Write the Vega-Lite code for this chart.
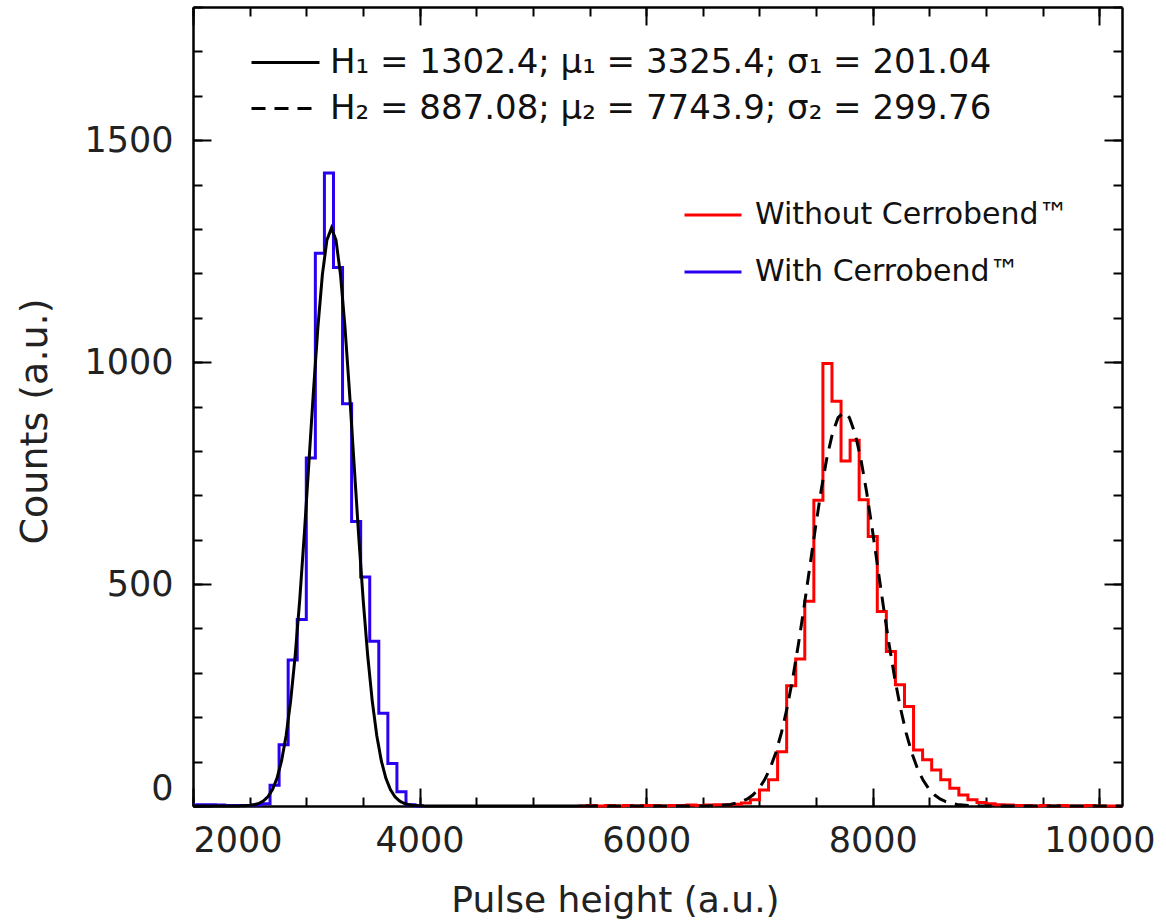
{
  "$schema": "https://vega.github.io/schema/vega-lite/v6.json",
  "autosize": {"type": "none"},
  "width": 929,
  "height": 799,
  "padding": {"left": 193, "top": 7, "right": 44, "bottom": 117},
  "background": "white",
  "config": {
    "view": {"stroke": null},
    "font": "DejaVu Sans",
    "axis": {
      "grid": false,
      "labelFont": "DejaVu Sans",
      "labelFontSize": 35,
      "labelColor": "#222222",
      "titleFont": "DejaVu Sans",
      "titleFontSize": 36,
      "titleFontWeight": "normal",
      "titleColor": "#222222",
      "tickColor": "black",
      "tickWidth": 2,
      "domainColor": "black",
      "domainWidth": 2.5,
      "labelOverlap": false
    },
    "legend": {"labelFont": "DejaVu Sans", "labelColor": "#111111", "labelLimit": 0}
  },
  "resolve": {"axis": {"x": "independent", "y": "independent"}},
  "layer": [
    {
      "data": {"values": [
        {"x": 2000, "count": 2, "series": "With Cerrobend™"},
        {"x": 2040, "count": 3, "series": "With Cerrobend™"},
        {"x": 2120, "count": 3, "series": "With Cerrobend™"},
        {"x": 2200, "count": 2, "series": "With Cerrobend™"},
        {"x": 2280, "count": 1, "series": "With Cerrobend™"},
        {"x": 2360, "count": 1, "series": "With Cerrobend™"},
        {"x": 2440, "count": 1, "series": "With Cerrobend™"},
        {"x": 2520, "count": 2, "series": "With Cerrobend™"},
        {"x": 2600, "count": 5, "series": "With Cerrobend™"},
        {"x": 2680, "count": 47, "series": "With Cerrobend™"},
        {"x": 2760, "count": 138, "series": "With Cerrobend™"},
        {"x": 2840, "count": 329, "series": "With Cerrobend™"},
        {"x": 2920, "count": 420, "series": "With Cerrobend™"},
        {"x": 3000, "count": 784, "series": "With Cerrobend™"},
        {"x": 3080, "count": 1245, "series": "With Cerrobend™"},
        {"x": 3160, "count": 1426, "series": "With Cerrobend™"},
        {"x": 3240, "count": 1213, "series": "With Cerrobend™"},
        {"x": 3320, "count": 906, "series": "With Cerrobend™"},
        {"x": 3400, "count": 641, "series": "With Cerrobend™"},
        {"x": 3480, "count": 516, "series": "With Cerrobend™"},
        {"x": 3560, "count": 371, "series": "With Cerrobend™"},
        {"x": 3640, "count": 209, "series": "With Cerrobend™"},
        {"x": 3720, "count": 96, "series": "With Cerrobend™"},
        {"x": 3800, "count": 32, "series": "With Cerrobend™"},
        {"x": 3880, "count": 3, "series": "With Cerrobend™"},
        {"x": 3960, "count": 0, "series": "With Cerrobend™"},
        {"x": 4040, "count": 0, "series": "With Cerrobend™"}
      ]},
      "mark": {"type": "line", "interpolate": "step-after", "strokeWidth": 3},
      "encoding": {
        "x": {"field": "x", "type": "quantitative",
          "scale": {"domain": [2000, 10200], "nice": false, "zero": false},
          "axis": {"orient": "bottom", "values": [2000, 4000, 6000, 8000, 10000], "format": "d", "tickSize": -18, "labelPadding": 35, "domain": true,
            "title": "Pulse height (a.u.)", "titleX": 422, "titleY": 105, "titleBaseline": "alphabetic", "titleAnchor": "middle", "titleAlign": "center"}},
        "y": {"field": "count", "type": "quantitative",
          "scale": {"domain": [0, 1800], "nice": false, "zero": false},
          "axis": {"orient": "left", "values": [0, 500, 1000, 1500], "format": "d", "tickSize": -18, "labelPadding": 38, "labelFlush": true, "domain": true,
            "title": "Counts (a.u.)", "titleX": -158, "titleY": 414, "titleBaseline": "middle", "titleAlign": "center", "titleAngle": 270, "titleFontSize": 38}},
        "color": {"field": "series", "type": "nominal",
          "scale": {"domain": ["Without Cerrobend™", "With Cerrobend™"], "range": ["#ff0000", "#2b00f0"]},
          "legend": {"orient": "none", "legendX": 490, "legendY": 178, "title": null, "symbolType": "stroke", "symbolSize": 3249, "symbolStrokeWidth": 3,
            "labelFontSize": 30, "labelOffset": 12, "rowPadding": 12, "padding": 0}}
      }
    },
    {
      "data": {"values": [
        {"x": 5400, "count": 0, "series": "Without Cerrobend™"},
        {"x": 5480, "count": 1, "series": "Without Cerrobend™"},
        {"x": 5560, "count": 0, "series": "Without Cerrobend™"},
        {"x": 5640, "count": 1, "series": "Without Cerrobend™"},
        {"x": 5720, "count": 0, "series": "Without Cerrobend™"},
        {"x": 5800, "count": 1, "series": "Without Cerrobend™"},
        {"x": 5880, "count": 0, "series": "Without Cerrobend™"},
        {"x": 5960, "count": 1, "series": "Without Cerrobend™"},
        {"x": 6040, "count": 1, "series": "Without Cerrobend™"},
        {"x": 6120, "count": 0, "series": "Without Cerrobend™"},
        {"x": 6200, "count": 1, "series": "Without Cerrobend™"},
        {"x": 6280, "count": 1, "series": "Without Cerrobend™"},
        {"x": 6360, "count": 2, "series": "Without Cerrobend™"},
        {"x": 6440, "count": 1, "series": "Without Cerrobend™"},
        {"x": 6520, "count": 2, "series": "Without Cerrobend™"},
        {"x": 6600, "count": 3, "series": "Without Cerrobend™"},
        {"x": 6680, "count": 3, "series": "Without Cerrobend™"},
        {"x": 6760, "count": 4, "series": "Without Cerrobend™"},
        {"x": 6840, "count": 7, "series": "Without Cerrobend™"},
        {"x": 6920, "count": 14, "series": "Without Cerrobend™"},
        {"x": 7000, "count": 36, "series": "Without Cerrobend™"},
        {"x": 7080, "count": 59, "series": "Without Cerrobend™"},
        {"x": 7160, "count": 122, "series": "Without Cerrobend™"},
        {"x": 7240, "count": 271, "series": "Without Cerrobend™"},
        {"x": 7320, "count": 331, "series": "Without Cerrobend™"},
        {"x": 7400, "count": 461, "series": "Without Cerrobend™"},
        {"x": 7480, "count": 689, "series": "Without Cerrobend™"},
        {"x": 7560, "count": 997, "series": "Without Cerrobend™"},
        {"x": 7640, "count": 912, "series": "Without Cerrobend™"},
        {"x": 7720, "count": 777, "series": "Without Cerrobend™"},
        {"x": 7800, "count": 824, "series": "Without Cerrobend™"},
        {"x": 7880, "count": 690, "series": "Without Cerrobend™"},
        {"x": 7960, "count": 607, "series": "Without Cerrobend™"},
        {"x": 8040, "count": 438, "series": "Without Cerrobend™"},
        {"x": 8120, "count": 348, "series": "Without Cerrobend™"},
        {"x": 8200, "count": 273, "series": "Without Cerrobend™"},
        {"x": 8280, "count": 224, "series": "Without Cerrobend™"},
        {"x": 8360, "count": 126, "series": "Without Cerrobend™"},
        {"x": 8440, "count": 104, "series": "Without Cerrobend™"},
        {"x": 8520, "count": 81, "series": "Without Cerrobend™"},
        {"x": 8600, "count": 59, "series": "Without Cerrobend™"},
        {"x": 8680, "count": 40, "series": "Without Cerrobend™"},
        {"x": 8760, "count": 25, "series": "Without Cerrobend™"},
        {"x": 8840, "count": 14, "series": "Without Cerrobend™"},
        {"x": 8920, "count": 8, "series": "Without Cerrobend™"},
        {"x": 9000, "count": 5, "series": "Without Cerrobend™"},
        {"x": 9080, "count": 3, "series": "Without Cerrobend™"},
        {"x": 9160, "count": 2, "series": "Without Cerrobend™"},
        {"x": 9240, "count": 1, "series": "Without Cerrobend™"},
        {"x": 9320, "count": 1, "series": "Without Cerrobend™"},
        {"x": 9400, "count": 0, "series": "Without Cerrobend™"},
        {"x": 9480, "count": 1, "series": "Without Cerrobend™"},
        {"x": 9560, "count": 0, "series": "Without Cerrobend™"},
        {"x": 9640, "count": 1, "series": "Without Cerrobend™"},
        {"x": 9720, "count": 0, "series": "Without Cerrobend™"},
        {"x": 9800, "count": 0, "series": "Without Cerrobend™"},
        {"x": 9880, "count": 1, "series": "Without Cerrobend™"},
        {"x": 9960, "count": 0, "series": "Without Cerrobend™"},
        {"x": 10040, "count": 0, "series": "Without Cerrobend™"},
        {"x": 10120, "count": 0, "series": "Without Cerrobend™"},
        {"x": 10200, "count": 0, "series": "Without Cerrobend™"}
      ]},
      "mark": {"type": "line", "interpolate": "step-after", "strokeWidth": 3},
      "encoding": {
        "x": {"field": "x", "type": "quantitative",
          "axis": {"orient": "bottom", "values": [2000, 2500, 3000, 3500, 4000, 4500, 5000, 5500, 6000, 6500, 7000, 7500, 8000, 8500, 9000, 9500, 10000], "tickSize": -9, "labels": false, "domain": false, "title": null}},
        "y": {"field": "count", "type": "quantitative",
          "axis": {"orient": "left", "values": [0, 100, 200, 300, 400, 500, 600, 700, 800, 900, 1000, 1100, 1200, 1300, 1400, 1500, 1600, 1700, 1800], "tickSize": -9, "labels": false, "domain": false, "title": null}},
        "color": {"field": "series", "type": "nominal"}
      }
    },
    {
      "data": {"values": [
        {"x": 2000, "fit": 0, "curve": "H₁ = 1302.4; μ₁ = 3325.4; σ₁ = 201.04"},
        {"x": 2222, "fit": 0, "curve": "H₁ = 1302.4; μ₁ = 3325.4; σ₁ = 201.04"},
        {"x": 2422, "fit": 0.3, "curve": "H₁ = 1302.4; μ₁ = 3325.4; σ₁ = 201.04"},
        {"x": 2502, "fit": 1.4, "curve": "H₁ = 1302.4; μ₁ = 3325.4; σ₁ = 201.04"},
        {"x": 2542, "fit": 3.0, "curve": "H₁ = 1302.4; μ₁ = 3325.4; σ₁ = 201.04"},
        {"x": 2582, "fit": 6.0, "curve": "H₁ = 1302.4; μ₁ = 3325.4; σ₁ = 201.04"},
        {"x": 2622, "fit": 11.5, "curve": "H₁ = 1302.4; μ₁ = 3325.4; σ₁ = 201.04"},
        {"x": 2662, "fit": 21.1, "curve": "H₁ = 1302.4; μ₁ = 3325.4; σ₁ = 201.04"},
        {"x": 2702, "fit": 37.2, "curve": "H₁ = 1302.4; μ₁ = 3325.4; σ₁ = 201.04"},
        {"x": 2742, "fit": 62.9, "curve": "H₁ = 1302.4; μ₁ = 3325.4; σ₁ = 201.04"},
        {"x": 2782, "fit": 102.1, "curve": "H₁ = 1302.4; μ₁ = 3325.4; σ₁ = 201.04"},
        {"x": 2822, "fit": 158.8, "curve": "H₁ = 1302.4; μ₁ = 3325.4; σ₁ = 201.04"},
        {"x": 2862, "fit": 236.9, "curve": "H₁ = 1302.4; μ₁ = 3325.4; σ₁ = 201.04"},
        {"x": 2902, "fit": 338.8, "curve": "H₁ = 1302.4; μ₁ = 3325.4; σ₁ = 201.04"},
        {"x": 2942, "fit": 464.4, "curve": "H₁ = 1302.4; μ₁ = 3325.4; σ₁ = 201.04"},
        {"x": 2982, "fit": 610.5, "curve": "H₁ = 1302.4; μ₁ = 3325.4; σ₁ = 201.04"},
        {"x": 3022, "fit": 769.5, "curve": "H₁ = 1302.4; μ₁ = 3325.4; σ₁ = 201.04"},
        {"x": 3062, "fit": 930, "curve": "H₁ = 1302.4; μ₁ = 3325.4; σ₁ = 201.04"},
        {"x": 3102, "fit": 1077, "curve": "H₁ = 1302.4; μ₁ = 3325.4; σ₁ = 201.04"},
        {"x": 3142, "fit": 1197, "curve": "H₁ = 1302.4; μ₁ = 3325.4; σ₁ = 201.04"},
        {"x": 3182, "fit": 1275, "curve": "H₁ = 1302.4; μ₁ = 3325.4; σ₁ = 201.04"},
        {"x": 3222, "fit": 1302, "curve": "H₁ = 1302.4; μ₁ = 3325.4; σ₁ = 201.04"},
        {"x": 3262, "fit": 1275, "curve": "H₁ = 1302.4; μ₁ = 3325.4; σ₁ = 201.04"},
        {"x": 3302, "fit": 1197, "curve": "H₁ = 1302.4; μ₁ = 3325.4; σ₁ = 201.04"},
        {"x": 3342, "fit": 1077, "curve": "H₁ = 1302.4; μ₁ = 3325.4; σ₁ = 201.04"},
        {"x": 3382, "fit": 930, "curve": "H₁ = 1302.4; μ₁ = 3325.4; σ₁ = 201.04"},
        {"x": 3422, "fit": 769.5, "curve": "H₁ = 1302.4; μ₁ = 3325.4; σ₁ = 201.04"},
        {"x": 3462, "fit": 610.5, "curve": "H₁ = 1302.4; μ₁ = 3325.4; σ₁ = 201.04"},
        {"x": 3502, "fit": 464.4, "curve": "H₁ = 1302.4; μ₁ = 3325.4; σ₁ = 201.04"},
        {"x": 3542, "fit": 338.8, "curve": "H₁ = 1302.4; μ₁ = 3325.4; σ₁ = 201.04"},
        {"x": 3582, "fit": 236.9, "curve": "H₁ = 1302.4; μ₁ = 3325.4; σ₁ = 201.04"},
        {"x": 3622, "fit": 158.8, "curve": "H₁ = 1302.4; μ₁ = 3325.4; σ₁ = 201.04"},
        {"x": 3662, "fit": 102.1, "curve": "H₁ = 1302.4; μ₁ = 3325.4; σ₁ = 201.04"},
        {"x": 3702, "fit": 62.9, "curve": "H₁ = 1302.4; μ₁ = 3325.4; σ₁ = 201.04"},
        {"x": 3742, "fit": 37.2, "curve": "H₁ = 1302.4; μ₁ = 3325.4; σ₁ = 201.04"},
        {"x": 3782, "fit": 21.1, "curve": "H₁ = 1302.4; μ₁ = 3325.4; σ₁ = 201.04"},
        {"x": 3822, "fit": 11.5, "curve": "H₁ = 1302.4; μ₁ = 3325.4; σ₁ = 201.04"},
        {"x": 3862, "fit": 6.0, "curve": "H₁ = 1302.4; μ₁ = 3325.4; σ₁ = 201.04"},
        {"x": 3902, "fit": 3.0, "curve": "H₁ = 1302.4; μ₁ = 3325.4; σ₁ = 201.04"},
        {"x": 3942, "fit": 1.4, "curve": "H₁ = 1302.4; μ₁ = 3325.4; σ₁ = 201.04"},
        {"x": 4022, "fit": 0.3, "curve": "H₁ = 1302.4; μ₁ = 3325.4; σ₁ = 201.04"},
        {"x": 4222, "fit": 0, "curve": "H₁ = 1302.4; μ₁ = 3325.4; σ₁ = 201.04"},
        {"x": 5450, "fit": 0, "curve": "H₁ = 1302.4; μ₁ = 3325.4; σ₁ = 201.04"}
      ]},
      "mark": {"type": "line", "color": "black", "strokeWidth": 3},
      "encoding": {
        "x": {"field": "x", "type": "quantitative",
          "axis": {"orient": "top", "values": [2000, 4000, 6000, 8000, 10000], "tickSize": -18, "labels": false, "domain": true, "title": null}},
        "y": {"field": "fit", "type": "quantitative",
          "axis": {"orient": "right", "values": [0, 500, 1000, 1500], "tickSize": -18, "labels": false, "domain": true, "title": null}},
        "strokeDash": {"field": "curve", "type": "nominal",
          "scale": {"domain": ["H₁ = 1302.4; μ₁ = 3325.4; σ₁ = 201.04", "H₂ = 887.08; μ₂ = 7743.9; σ₂ = 299.76"], "range": [[1, 0], [14, 9]]},
          "legend": {"orient": "none", "legendX": 74, "legendY": 37, "title": null, "symbolType": "M-2,0H2", "symbolSize": 1156, "symbolStrokeWidth": 3, "symbolStrokeColor": "black", "symbolFillColor": "transparent",
            "labelFontSize": 34, "labelOffset": 26, "rowPadding": 10, "padding": 0}}
      }
    },
    {
      "data": {"values": [
        {"x": 5450, "fit": 0, "curve": "H₂ = 887.08; μ₂ = 7743.9; σ₂ = 299.76"},
        {"x": 6344, "fit": 0, "curve": "H₂ = 887.08; μ₂ = 7743.9; σ₂ = 299.76"},
        {"x": 6544, "fit": 0.3, "curve": "H₂ = 887.08; μ₂ = 7743.9; σ₂ = 299.76"},
        {"x": 6644, "fit": 1.1, "curve": "H₂ = 887.08; μ₂ = 7743.9; σ₂ = 299.76"},
        {"x": 6744, "fit": 3.4, "curve": "H₂ = 887.08; μ₂ = 7743.9; σ₂ = 299.76"},
        {"x": 6844, "fit": 9.9, "curve": "H₂ = 887.08; μ₂ = 7743.9; σ₂ = 299.76"},
        {"x": 6894, "fit": 16.0, "curve": "H₂ = 887.08; μ₂ = 7743.9; σ₂ = 299.76"},
        {"x": 6944, "fit": 25.3, "curve": "H₂ = 887.08; μ₂ = 7743.9; σ₂ = 299.76"},
        {"x": 6994, "fit": 39.0, "curve": "H₂ = 887.08; μ₂ = 7743.9; σ₂ = 299.76"},
        {"x": 7044, "fit": 58.3, "curve": "H₂ = 887.08; μ₂ = 7743.9; σ₂ = 299.76"},
        {"x": 7094, "fit": 84.8, "curve": "H₂ = 887.08; μ₂ = 7743.9; σ₂ = 299.76"},
        {"x": 7144, "fit": 120.0, "curve": "H₂ = 887.08; μ₂ = 7743.9; σ₂ = 299.76"},
        {"x": 7194, "fit": 165.2, "curve": "H₂ = 887.08; μ₂ = 7743.9; σ₂ = 299.76"},
        {"x": 7244, "fit": 221.2, "curve": "H₂ = 887.08; μ₂ = 7743.9; σ₂ = 299.76"},
        {"x": 7294, "fit": 288.0, "curve": "H₂ = 887.08; μ₂ = 7743.9; σ₂ = 299.76"},
        {"x": 7344, "fit": 364.7, "curve": "H₂ = 887.08; μ₂ = 7743.9; σ₂ = 299.76"},
        {"x": 7394, "fit": 449.1, "curve": "H₂ = 887.08; μ₂ = 7743.9; σ₂ = 299.76"},
        {"x": 7444, "fit": 538.0, "curve": "H₂ = 887.08; μ₂ = 7743.9; σ₂ = 299.76"},
        {"x": 7494, "fit": 626.8, "curve": "H₂ = 887.08; μ₂ = 7743.9; σ₂ = 299.76"},
        {"x": 7544, "fit": 710.2, "curve": "H₂ = 887.08; μ₂ = 7743.9; σ₂ = 299.76"},
        {"x": 7594, "fit": 782.8, "curve": "H₂ = 887.08; μ₂ = 7743.9; σ₂ = 299.76"},
        {"x": 7644, "fit": 839.1, "curve": "H₂ = 887.08; μ₂ = 7743.9; σ₂ = 299.76"},
        {"x": 7694, "fit": 874.8, "curve": "H₂ = 887.08; μ₂ = 7743.9; σ₂ = 299.76"},
        {"x": 7744, "fit": 887, "curve": "H₂ = 887.08; μ₂ = 7743.9; σ₂ = 299.76"},
        {"x": 7794, "fit": 874.8, "curve": "H₂ = 887.08; μ₂ = 7743.9; σ₂ = 299.76"},
        {"x": 7844, "fit": 839.1, "curve": "H₂ = 887.08; μ₂ = 7743.9; σ₂ = 299.76"},
        {"x": 7894, "fit": 782.8, "curve": "H₂ = 887.08; μ₂ = 7743.9; σ₂ = 299.76"},
        {"x": 7944, "fit": 710.2, "curve": "H₂ = 887.08; μ₂ = 7743.9; σ₂ = 299.76"},
        {"x": 7994, "fit": 626.8, "curve": "H₂ = 887.08; μ₂ = 7743.9; σ₂ = 299.76"},
        {"x": 8044, "fit": 538.0, "curve": "H₂ = 887.08; μ₂ = 7743.9; σ₂ = 299.76"},
        {"x": 8094, "fit": 449.1, "curve": "H₂ = 887.08; μ₂ = 7743.9; σ₂ = 299.76"},
        {"x": 8144, "fit": 364.7, "curve": "H₂ = 887.08; μ₂ = 7743.9; σ₂ = 299.76"},
        {"x": 8194, "fit": 288.0, "curve": "H₂ = 887.08; μ₂ = 7743.9; σ₂ = 299.76"},
        {"x": 8244, "fit": 221.2, "curve": "H₂ = 887.08; μ₂ = 7743.9; σ₂ = 299.76"},
        {"x": 8294, "fit": 165.2, "curve": "H₂ = 887.08; μ₂ = 7743.9; σ₂ = 299.76"},
        {"x": 8344, "fit": 120.0, "curve": "H₂ = 887.08; μ₂ = 7743.9; σ₂ = 299.76"},
        {"x": 8394, "fit": 84.8, "curve": "H₂ = 887.08; μ₂ = 7743.9; σ₂ = 299.76"},
        {"x": 8444, "fit": 58.3, "curve": "H₂ = 887.08; μ₂ = 7743.9; σ₂ = 299.76"},
        {"x": 8494, "fit": 39.0, "curve": "H₂ = 887.08; μ₂ = 7743.9; σ₂ = 299.76"},
        {"x": 8544, "fit": 25.3, "curve": "H₂ = 887.08; μ₂ = 7743.9; σ₂ = 299.76"},
        {"x": 8594, "fit": 16.0, "curve": "H₂ = 887.08; μ₂ = 7743.9; σ₂ = 299.76"},
        {"x": 8644, "fit": 9.9, "curve": "H₂ = 887.08; μ₂ = 7743.9; σ₂ = 299.76"},
        {"x": 8744, "fit": 3.4, "curve": "H₂ = 887.08; μ₂ = 7743.9; σ₂ = 299.76"},
        {"x": 8844, "fit": 1.1, "curve": "H₂ = 887.08; μ₂ = 7743.9; σ₂ = 299.76"},
        {"x": 8944, "fit": 0.3, "curve": "H₂ = 887.08; μ₂ = 7743.9; σ₂ = 299.76"},
        {"x": 9144, "fit": 0, "curve": "H₂ = 887.08; μ₂ = 7743.9; σ₂ = 299.76"},
        {"x": 10200, "fit": 0, "curve": "H₂ = 887.08; μ₂ = 7743.9; σ₂ = 299.76"}
      ]},
      "mark": {"type": "line", "color": "black", "strokeWidth": 3},
      "encoding": {
        "x": {"field": "x", "type": "quantitative",
          "axis": {"orient": "top", "values": [2000, 2500, 3000, 3500, 4000, 4500, 5000, 5500, 6000, 6500, 7000, 7500, 8000, 8500, 9000, 9500, 10000], "tickSize": -9, "labels": false, "domain": false, "title": null}},
        "y": {"field": "fit", "type": "quantitative",
          "axis": {"orient": "right", "values": [0, 100, 200, 300, 400, 500, 600, 700, 800, 900, 1000, 1100, 1200, 1300, 1400, 1500, 1600, 1700, 1800], "tickSize": -9, "labels": false, "domain": false, "title": null}},
        "strokeDash": {"field": "curve", "type": "nominal"}
      }
    }
  ]
}
